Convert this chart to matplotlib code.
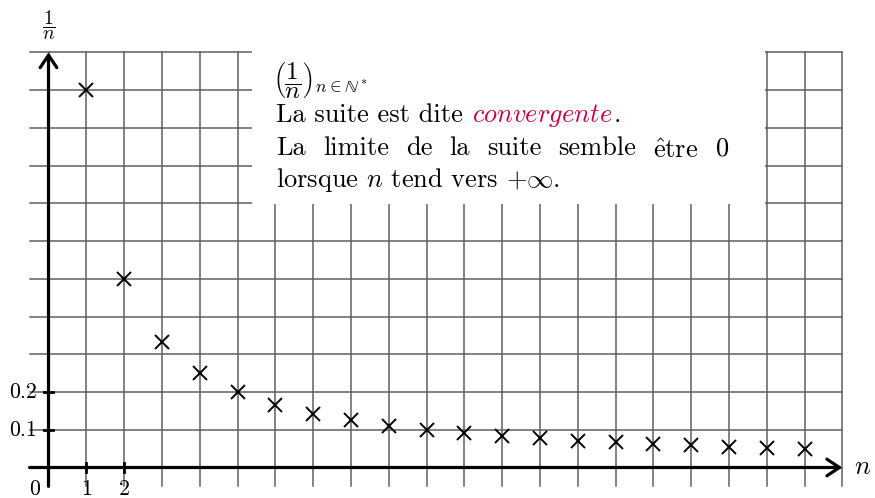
import matplotlib
matplotlib.use("Agg")
import matplotlib.pyplot as plt
from matplotlib.patches import Rectangle
from matplotlib.transforms import offset_copy

plt.rcParams['font.family'] = ['cmr10', 'DejaVu Serif']
plt.rcParams['mathtext.fontset'] = 'cm'
plt.rcParams['axes.unicode_minus'] = False

# terms of the sequence u_n = 1/n
n_values = [1, 2, 3, 4, 5, 6, 7, 8, 9, 10, 11, 12, 13, 14, 15, 16, 17, 18, 19, 20]
u_values = [1.0, 0.5, 0.3333, 0.25, 0.2, 0.1667, 0.1429, 0.125, 0.1111, 0.1,
            0.0909, 0.0833, 0.0769, 0.0714, 0.0667, 0.0625, 0.0588, 0.0556, 0.0526, 0.05]
x_tick_labels = ["1", "2"]
x_ticks = [1, 2]
y_ticks = [0.1, 0.2]
y_tick_labels = ["0.1", "0.2"]

W, H = 875, 498
fig = plt.figure(figsize=(W / 100, H / 100), dpi=100)
ax = fig.add_axes([0, 0, 1, 1])
ax.axis('off')

# pixel placement of the origin and unit sizes
x0, sx = 48.5, 37.8
y0, sy = 467.5, 377.5
ax.set_xlim(-x0 / sx, (W - x0) / sx)
ax.set_ylim(-(H - y0) / sy, y0 / sy)

def fx(px):
    return px / W

def fy(py):
    return 1 - py / H

grid_col = '#5f5f5f'
xmin_g, xmax_g = -0.5, 21
ymin_g, ymax_g = -0.05, 1.1
for i in range(0, 22):
    ax.plot([i, i], [ymin_g, ymax_g], color=grid_col, lw=1.1, zorder=1)
for j in range(0, 12):
    ax.plot([xmin_g, xmax_g], [j / 10, j / 10], color=grid_col, lw=1.1, zorder=1)

# white box behind the comment text
ax.add_patch(Rectangle((5.38, 0.697), 18.96 - 5.38, 0.6, facecolor='white',
                       edgecolor='none', zorder=2))

# axes with arrow heads
arrow = dict(arrowstyle='->,head_length=0.45,head_width=0.3', lw=2.3, color='black',
             shrinkA=0, shrinkB=0, mutation_scale=20)
ax.annotate('', xy=(21, 0), xytext=(-0.5, 0), arrowprops=arrow, zorder=4)
ax.annotate('', xy=(0, 1.1), xytext=(0, -0.05), arrowprops=arrow, zorder=4)

for t in x_ticks:
    ax.plot([t, t], [-0.012, 0.012], color='black', lw=2, zorder=4)
for t in y_ticks:
    ax.plot([-0.12, 0.12], [t, t], color='black', lw=2, zorder=4)

ax.plot(n_values, u_values, linestyle='none', marker='x', color='black',
        markersize=9.5, markeredgewidth=1.4, zorder=5)

lab = dict(fontsize=15.7, color='black')
for t, s in zip(x_ticks, x_tick_labels):
    ax.text(t, -0.032, s, ha='center', va='top', **lab)
for t, s in zip(y_ticks, y_tick_labels):
    ax.text(-0.3, t, s, ha='right', va='center', **lab)
ax.text(-0.22, -0.032, "0", ha='right', va='top', **lab)
ax.text(0, 1.127, r"$\dfrac{1}{n}$", ha='center', va='bottom', fontsize=14)
ax.text(21.3, 0, r"$n$", ha='left', va='center', fontsize=19)

# comment text
fs = 19
fig.text(fx(273), fy(80), r"$\left(\dfrac{1}{n}\right)_{n{\in}\mathbb{N}^*}$",
         fontsize=18, ha='left', va='center', zorder=6)
t2 = fig.text(fx(276), fy(122), "La suite est dite", fontsize=fs, ha='left',
              va='baseline', zorder=6)
fig.canvas.draw()
r = fig.canvas.get_renderer()
x_end = t2.get_window_extent(r).x1
t3 = fig.text((x_end + 9) / W, fy(122), r"$\mathit{convergente}$", fontsize=fs,
              color='#c8004a', ha='left', va='baseline', zorder=6)
fig.canvas.draw()
x_end = t3.get_window_extent(r).x1
fig.text((x_end + 1) / W, fy(122), ".", fontsize=fs, ha='left', va='baseline', zorder=6)

# justified line: spread the words between the left and right margins
words = ["La", "limite", "de", "la", "suite", "semble", r"$\hat{\mathrm{e}}$tre", "0"]
left, right = 276, 729
arts = []
for w in words:
    tr = fig.transFigure
    if w.startswith("$"):
        # accented word sits a little high, pull it down onto the baseline
        tr = offset_copy(fig.transFigure, fig=fig, x=0, y=-3, units='dots')
    arts.append(fig.text(0, fy(155), w, fontsize=fs, ha='left', va='baseline',
                         transform=tr, zorder=6))
fig.canvas.draw()
widths = [a.get_window_extent(r).width for a in arts]
gap = (right - left - sum(widths)) / (len(words) - 1)
px = left
for a, w in zip(arts, widths):
    a.set_x(px / W)
    px += w + gap

fig.text(fx(276), fy(187), r"lorsque $n$ tend vers $+\infty$.", fontsize=fs,
         ha='left', va='baseline', zorder=6)

fig.savefig("out.png", dpi=100)
